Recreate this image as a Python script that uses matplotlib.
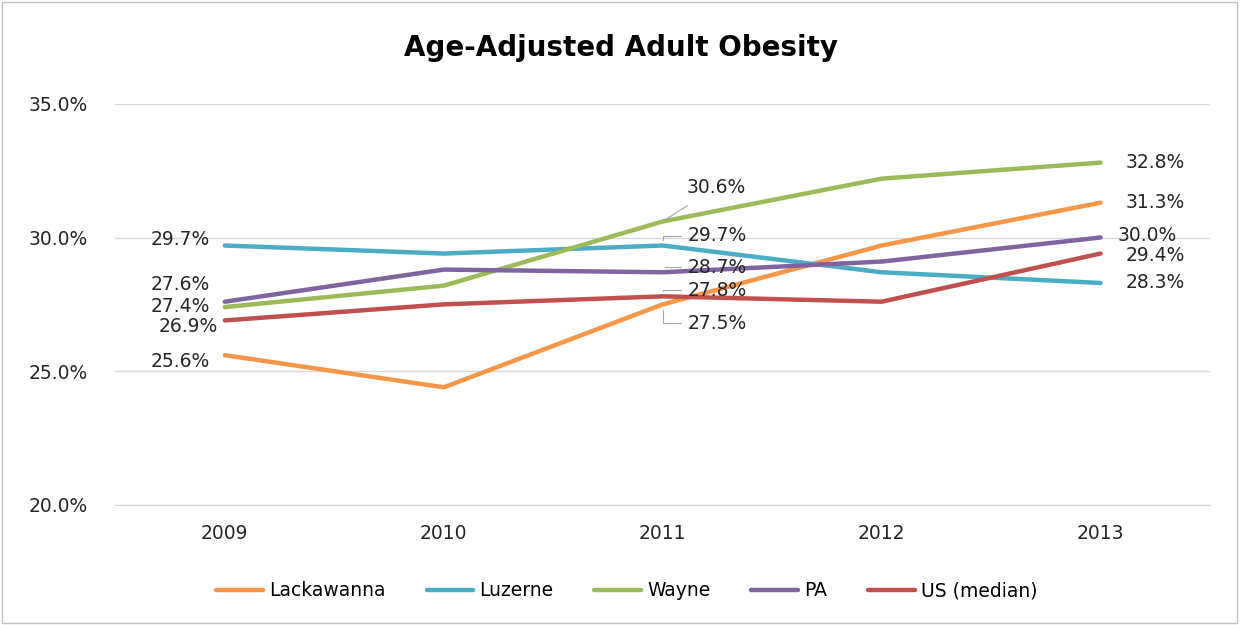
import matplotlib.pyplot as plt
from matplotlib.patches import Rectangle
import numpy as np

# DATA
years = ['2009', '2010', '2011', '2012', '2013']
lackawanna = [25.6, 24.4, 27.5, 29.7, 31.3]
luzerne = [29.7, 29.4, 29.7, 28.7, 28.3]
wayne = [27.4, 28.2, 30.6, 32.2, 32.8]
pa = [27.6, 28.8, 28.7, 29.1, 30.0]
us_median = [26.9, 27.5, 27.8, 27.6, 29.4]

names = ['Lackawanna', 'Luzerne', 'Wayne', 'PA', 'US (median)']
colors = ['#F79646', '#4BACC6', '#9BBB59', '#8064A2', '#C0504D']
series = [lackawanna, luzerne, wayne, pa, us_median]

# label offsets in pixels (index 0, 2, 4 only)
off_2009 = [(-15, -6), (-15, 6), (-15, 1), (-15, 17), (-7, -6)]
off_2011 = [(25, -19), (25, 10), (53, 34), (25, 5), (25, 6)]
off_2013 = [(25, 0), (25, 0), (25, 0), (17, 2), (25, -2)]

plt.rcParams['font.family'] = 'DejaVu Sans'

fig = plt.figure(figsize=(12.41, 6.25), dpi=100)
ax = fig.add_axes([0.093, 0.192, 0.882, 0.642])

x = np.arange(len(years))
for vals, name, c in zip(series, names, colors):
    ax.plot(x, vals, color=c, lw=3.2, label=name, solid_capstyle='round')

lab_size = 13.5
for i, (vals, c) in enumerate(zip(series, colors)):
    dx, dy = off_2009[i]
    ax.annotate(f'{vals[0]:.1f}%', (x[0], vals[0]), xytext=(dx, dy),
                textcoords='offset pixels', ha='right', va='center',
                fontsize=lab_size, color='#262626')
    dx, dy = off_2013[i]
    ax.annotate(f'{vals[4]:.1f}%', (x[4], vals[4]), xytext=(dx, dy),
                textcoords='offset pixels', ha='left', va='center',
                fontsize=lab_size, color='#262626')
    dx, dy = off_2011[i]
    if i == 2:
        ax.annotate(f'{vals[2]:.1f}%', (x[2], vals[2]), xytext=(dx, dy),
                    textcoords='offset pixels', ha='center', va='center',
                    fontsize=lab_size, color='#262626',
                    arrowprops=dict(arrowstyle='-', color='#a6a6a6', lw=0.8,
                                    shrinkA=8, shrinkB=2))
    else:
        ax.annotate(f'{vals[2]:.1f}%', (x[2], vals[2]), xytext=(dx, dy),
                    textcoords='offset pixels', ha='left', va='center',
                    fontsize=lab_size, color='#262626',
                    arrowprops=dict(arrowstyle='-', color='#a6a6a6', lw=0.8,
                                    connectionstyle='angle,angleA=180,angleB=90,rad=0',
                                    shrinkA=3, shrinkB=4))

ax.set_xlim(-0.5, 4.5)
ax.set_ylim(20, 35)
ax.set_xticks(x)
ax.set_xticklabels(years)
ax.set_yticks([20, 25, 30, 35])
ax.set_yticklabels([f'{v:.1f}%' for v in [20, 25, 30, 35]])
ax.tick_params(length=0, labelsize=13.5, colors='#262626')
ax.tick_params(axis='x', pad=14)
ax.tick_params(axis='y', pad=20)
ax.grid(axis='y', color='#d9d9d9', lw=1)
ax.set_axisbelow(True)
for s in ['top', 'right', 'left']:
    ax.spines[s].set_visible(False)
ax.spines['bottom'].set_color('#d9d9d9')

fig.text(0.5, 0.923, 'Age-Adjusted Adult Obesity', ha='center', va='center',
         fontsize=20, fontweight='bold', color='black')

fig.legend(loc='center', bbox_to_anchor=(0.505, 0.055), ncol=5, frameon=False,
           fontsize=13.5, handlelength=2.5, columnspacing=2.2, handletextpad=0.3)

fig.patches.append(Rectangle((0.002, 0.003), 0.995, 0.994, transform=fig.transFigure,
                             fill=False, edgecolor='#bfbfbf', lw=1))

fig.savefig('out.png', dpi=100)
